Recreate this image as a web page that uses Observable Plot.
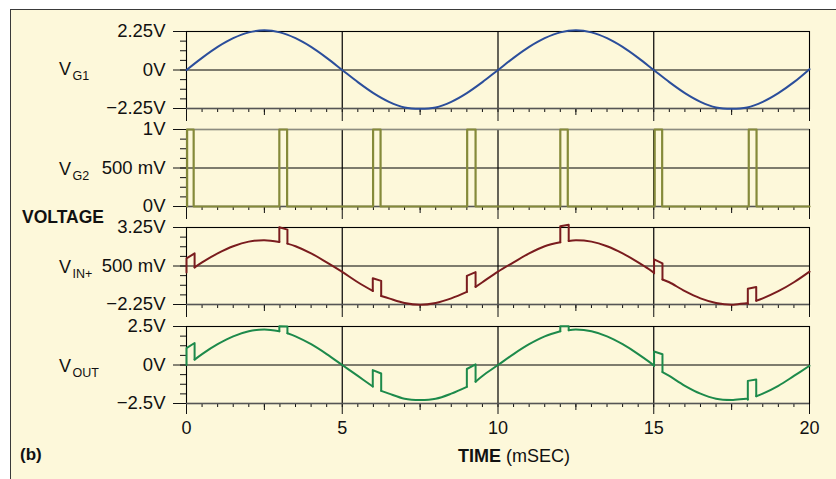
<!DOCTYPE html>
<html><head><meta charset="utf-8">
<script src="https://cdn.jsdelivr.net/npm/d3@7"></script>
<script src="https://cdn.jsdelivr.net/npm/@observablehq/plot@0.6"></script>
<style>
html,body{margin:0;padding:0;background:#fff;}
#wrap{position:relative;width:836px;height:479px;overflow:hidden;font-family:"Liberation Sans",Arial,Helvetica,sans-serif;}
#bg{position:absolute;left:10px;top:9px;width:830px;height:475px;background:#fdf8da;border-left:1.5px solid #3a3a3a;border-top:1.5px solid #3a3a3a;}
</style></head><body><div id="wrap"><div id="bg"></div></div>
<script>
// ---- time grid (ms) ----
const timeGrid = [0,0.5,1,1.5,2,2.5,3,3.5,4,4.5,5,5.5,6,6.5,7,7.5,8,8.5,9,9.5,10,10.5,11,11.5,12,12.5,13,13.5,14,14.5,15,15.5,16,16.5,17,17.5,18,18.5,19,19.5,20];

// ---- V_G1 (V) ----
const vg1Values = [0,0.71,1.35,1.86,2.2,2.32,2.2,1.86,1.35,0.71,0,-0.71,-1.35,-1.86,-2.19,-2.27,-2.19,-1.86,-1.35,-0.71,0,0.71,1.35,1.86,2.2,2.32,2.2,1.86,1.35,0.71,0,-0.71,-1.35,-1.86,-2.19,-2.27,-2.19,-1.86,-1.35,-0.71,0.05];

// ---- V_G2 pulses (ms), levels 0 / 1 V ----
const vg2Start = [0.02,2.98,5.99,9.01,12.0,15.03,18.05];
const vg2End   = [0.23,3.23,6.23,9.28,12.24,15.27,18.3];
const vg2Low = 0, vg2High = 1;

// ---- switching instants for V_IN+ and V_OUT (ms) ----
const pulseStart = [0,2.98,5.98,9.0,12.0,15.01,18.02];
const pulseEnd   = [0.26,3.24,6.25,9.28,12.27,15.28,18.29];

// ---- V_IN+ (V) ----
const vinValues = [0.05,0.76,1.4,1.91,2.24,2.34,2.24,1.91,1.4,0.76,0.08,-0.66,-1.3,-1.81,-2.14,-2.27,-2.14,-1.81,-1.3,-0.66,0.1,0.76,1.4,1.91,2.24,2.34,2.24,1.91,1.4,0.76,0.02,-0.66,-1.3,-1.81,-2.14,-2.27,-2.16,-1.81,-1.3,-0.66,0.1];
const vinBefore   = [0.03,2.22,-1.28,-1.35,2.19,-0.02,-2.2];
const vinTopStart = [1.04,3.27,-0.37,-0.2,3.34,0.97,-1.12];
const vinTopEnd   = [1.4,3.1,-0.56,0.06,3.44,0.69,-1.0];
const vinAfter    = [0.4,2.1,-1.64,-0.99,2.29,-0.46,-1.98];

// ---- V_OUT (V) ----
const voutValues = [0,0.71,1.35,1.86,2.19,2.3,2.19,1.86,1.35,0.71,0,-0.71,-1.35,-1.86,-2.19,-2.27,-2.19,-1.86,-1.35,-0.71,0,0.71,1.35,1.86,2.19,2.3,2.19,1.86,1.35,0.71,-0.03,-0.71,-1.35,-1.86,-2.19,-2.27,-2.2,-1.86,-1.35,-0.71,-0.05];
const voutBefore   = [0,2.19,-1.4,-1.42,2.19,-0.06,-2.24];
const voutTopStart = [1.1,2.52,-0.33,-0.26,2.52,0.88,-1.03];
const voutTopEnd   = [1.43,2.5,-0.55,0.04,2.52,0.7,-0.94];
const voutAfter    = [0.35,2.06,-1.68,-1.08,2.26,-0.46,-2.03];

// ---- axes ----
const xMajorTicks = [0,5,10,15,20];
const xMidTicks = [2.5,7.5,12.5,17.5];
const xGridLines = [5,10,15];
const vg1Ticks = [-2.25,0,2.25],  vg1TickLabels = ["\u22122.25V","0V","2.25V"];
const vg2Ticks = [0,0.5,1],       vg2TickLabels = ["0V","500 mV","1V"];
const vinTicks = [-2.25,0.5,3.25], vinTickLabels = ["\u22122.25V","500 mV","3.25V"];
const voutTicks = [-2.5,0,2.5],   voutTickLabels = ["\u22122.5V","0V","2.5V"];

const colors = {vg1:"#2b4e9b", vg2:"#858a3a", vin:"#7a1c1e", vout:"#1d8a4b"};
const FONT = '"Liberation Sans", Arial, Helvetica, sans-serif';
const wrap = document.getElementById("wrap");

// smooth pieces between switching instants
function wavePieces(values, starts, ends, before, after) {
  const out = [];
  for (let i = 0; i < starts.length; i++) {
    const a = ends[i], b = i + 1 < starts.length ? starts[i + 1] : 20.0001;
    out.push({t: a, v: after[i], seg: i});
    timeGrid.forEach((t, k) => { if (t > a && t < b) out.push({t, v: values[k], seg: i}); });
    if (i + 1 < starts.length) out.push({t: starts[i + 1], v: before[i + 1], seg: i});
  }
  return out;
}
function pulsePieces(starts, ends, before, topS, topE, after) {
  const out = [];
  starts.forEach((s, i) => {
    out.push({t: s, v: before[i], seg: i}, {t: s, v: topS[i], seg: i},
             {t: ends[i], v: topE[i], seg: i}, {t: ends[i], v: after[i], seg: i});
  });
  return out;
}

const vg1Data = timeGrid.map((t, i) => ({t, v: vg1Values[i]}));
const vg2Data = [];
vg2Start.forEach((s, i) => {
  vg2Data.push({t: s, v: vg2Low}, {t: s, v: vg2High}, {t: vg2End[i], v: vg2High}, {t: vg2End[i], v: vg2Low});
});
vg2Data.push({t: 20, v: vg2Low});

const lineOpts = (c) => ({x: "t", y: "v", z: "seg", stroke: c, strokeWidth: 2});

const panels = [
  {top: 31, ticks: vg1Ticks, labels: vg1TickLabels, marks: [
    Plot.line(vg1Data, {x: "t", y: "v", curve: "catmull-rom", stroke: colors.vg1, strokeWidth: 2})]},
  {top: 129, ticks: vg2Ticks, labels: vg2TickLabels, topStroke: "#8c8c80", marks: [
    Plot.line(vg2Data, {x: "t", y: "v", stroke: colors.vg2, strokeWidth: 2.2})]},
  {top: 227, ticks: vinTicks, labels: vinTickLabels, marks: [
    Plot.line(wavePieces(vinValues, pulseStart, pulseEnd, vinBefore, vinAfter), {...lineOpts(colors.vin), curve: "catmull-rom"}),
    Plot.line(pulsePieces(pulseStart, pulseEnd, vinBefore, vinTopStart, vinTopEnd, vinAfter), lineOpts(colors.vin))]},
  {top: 326, ticks: voutTicks, labels: voutTickLabels, showX: true, marks: [
    Plot.line(wavePieces(voutValues, pulseStart, pulseEnd, voutBefore, voutAfter), {...lineOpts(colors.vout), curve: "catmull-rom"}),
    Plot.line(pulsePieces(pulseStart, pulseEnd, voutBefore, voutTopStart, voutTopEnd, voutAfter), lineOpts(colors.vout))]}
];

const plotH = 77;
panels.forEach(p => {
  const mt = 10, mb = p.showX ? 45 : 20;
  const lo = p.ticks[0], hi = p.ticks[2];
  const yMinor = d3.range(9).map(i => lo + i * (hi - lo) / 8);
  const xMinor = d3.range(0, 20.001, 0.5);
  const fmt = new Map(p.ticks.map((t, i) => [t, p.labels[i]]));
  const chart = Plot.plot({
    width: 836, height: plotH + mt + mb,
    marginLeft: 186, marginRight: 27, marginTop: mt, marginBottom: mb,
    style: {background: "transparent", fontSize: "18px", fontFamily: FONT, color: "#111", overflow: "visible"},
    x: {domain: [0, 20], label: null},
    y: {domain: [lo, hi], label: null},
    marks: [
      Plot.ruleX(xGridLines, {stroke: "#000", strokeWidth: 1.2}),
      Plot.ruleY([p.ticks[1]], {stroke: "#000", strokeWidth: 1.2}),
      Plot.axisX(xMinor, {tickSize: 4, tickFormat: () => "", label: null}),
      Plot.axisX(xMidTicks, {tickSize: 7, tickFormat: () => "", label: null}),
      Plot.axisX(xMajorTicks, {tickSize: p.showX ? 11 : 13, tickPadding: 7, fontSize: 18,
        tickFormat: p.showX ? (d => String(d)) : (() => ""), label: null}),
      Plot.axisY(yMinor, {tickSize: 6, tickFormat: () => "", label: null}),
      Plot.axisY(p.ticks, {tickSize: 13, tickPadding: 8, fontSize: 18.5, tickFormat: d => fmt.get(d), label: null}),
      Plot.frame({stroke: "#000", strokeWidth: 1.1}),
      Plot.ruleY([lo], {stroke: "#555", strokeWidth: 1.6}),
      ...(p.topStroke ? [Plot.ruleY([hi], {stroke: p.topStroke, strokeWidth: 1.6})] : []),
      ...p.marks
    ]
  });
  chart.style.position = "absolute";
  chart.style.left = "0px";
  chart.style.top = (p.top - mt) + "px";
  wrap.appendChild(chart);
});

// ---- text overlay ----
const seriesLabels = [
  {main: "V", sub: "G1", y: 75},
  {main: "V", sub: "G2", y: 175},
  {main: "V", sub: "IN+", y: 273},
  {main: "V", sub: "OUT", y: 372}
];
const svg = d3.select(wrap).append("svg")
  .attr("width", 836).attr("height", 479)
  .style("position", "absolute").style("left", 0).style("top", 0)
  .style("font-family", FONT).style("fill", "#111");
seriesLabels.forEach(l => {
  const t = svg.append("text").attr("x", 59).attr("y", l.y).attr("font-size", 18).text(l.main);
  t.append("tspan").attr("dx", 1.5).attr("dy", 5).attr("font-size", 12.5).text(l.sub);
});
svg.append("text").attr("x", 22).attr("y", 223).attr("font-size", 17.5).attr("font-weight", "bold").text("VOLTAGE");
svg.append("text").attr("x", 20).attr("y", 460).attr("font-size", 17).attr("font-weight", "bold").text("(b)");
const xl = svg.append("text").attr("x", 458).attr("y", 462).attr("font-size", 18);
xl.append("tspan").attr("font-weight", "bold").text("TIME");
xl.append("tspan").text(" (mSEC)");
</script>
</body></html>
